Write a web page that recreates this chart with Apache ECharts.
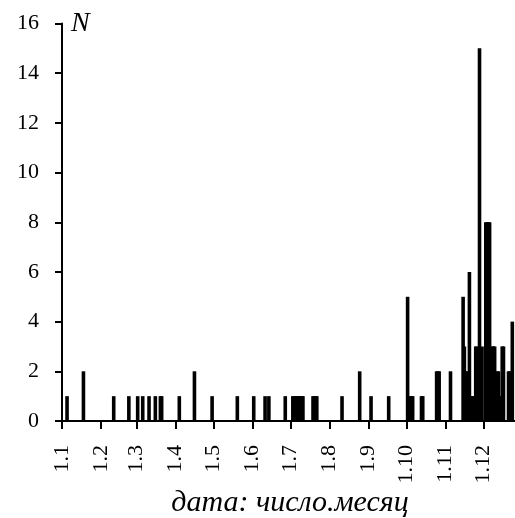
<!DOCTYPE html>
<html>
<head>
<meta charset="utf-8">
<script src="https://cdn.jsdelivr.net/npm/echarts@6/dist/echarts.min.js"></script>
<style>
  html, body { margin: 0; padding: 0; background: #fff; }
  #chart { width: 515px; height: 518px; }
</style>
</head>
<body>
<div id="chart"></div>
<script>
  // day of year (0 = 1 January) and number of events on that day
  const days = [
    4, 17, 41, 53, 60, 64, 69, 74, 78, 79,
    93, 105, 119, 139, 152, 161, 164, 177,
    183, 184, 185, 186, 187, 188, 189, 190, 191,
    199, 200, 201, 202, 222, 236, 245, 259,
    274, 276, 277, 278, 285, 286, 297, 298, 299, 308,
    318, 319, 320, 321, 323, 325, 326, 328, 329, 331, 333,
    336, 337, 338, 339, 341, 342, 343, 345, 346, 347,
    349, 350, 354, 355, 357,
  ];
  const counts = [
    1, 2, 1, 1, 1, 1, 1, 1, 1, 1,
    1, 2, 1, 1, 1, 1, 1, 1,
    1, 1, 1, 1, 1, 1, 1, 1, 1,
    1, 1, 1, 1, 1, 2, 1, 1,
    5, 1, 1, 1, 1, 1, 2, 2, 2, 2,
    5, 3, 2, 2, 6, 1, 1, 3, 3, 15, 3,
    8, 8, 8, 8, 3, 3, 3, 2, 2, 1,
    3, 3, 2, 2, 4,
  ];
  // first day of each month
  const monthStarts = [0, 31, 59, 90, 120, 151, 181, 212, 243, 273, 304, 334];
  const monthLabels = ['1.1', '1.2', '1.3', '1.4', '1.5', '1.6', '1.7', '1.8', '1.9', '1.10', '1.11', '1.12'];

  const serif = '"Liberation Serif", "Times New Roman", serif';
  const chart = echarts.init(document.getElementById('chart'));

  // the built-in bar squeezes width to the one-day gap, so draw the columns here
  const renderBar = (params, api) => {
    const top = api.coord([api.value(0), api.value(1)]);
    const base = api.coord([api.value(0), 0]);
    const w = 3.6;
    return {
      type: 'rect',
      shape: { x: top[0] - w / 2, y: top[1], width: w, height: base[1] - top[1] },
      style: { fill: '#000' },
    };
  };

  chart.setOption({
    animation: false,
    backgroundColor: '#fff',
    grid: {
      left: 62,
      top: 23.5,
      width: 460.4,
      height: 397.5,
      outerBoundsMode: 'none',
    },
    xAxis: {
      type: 'value',
      min: 0,
      max: 365,
      axisLine: {
        lineStyle: { color: '#000', width: 2 },
      },
      axisTick: {
        customValues: monthStarts,
        length: 8,
        lineStyle: { color: '#000', width: 2 },
      },
      axisLabel: {
        customValues: monthStarts,
        formatter: v => monthLabels[monthStarts.indexOf(v)],
        rotate: 90,
        margin: 24,
        color: '#000',
        fontFamily: serif,
        fontSize: 22,
      },
      splitLine: { show: false },
    },
    yAxis: {
      type: 'value',
      min: 0,
      max: 16,
      interval: 2,
      axisLine: {
        show: true,
        lineStyle: { color: '#000', width: 2 },
      },
      axisTick: {
        show: true,
        length: 7,
        lineStyle: { color: '#000', width: 2 },
      },
      axisLabel: {
        margin: 23,
        color: '#000',
        fontFamily: serif,
        fontSize: 22,
      },
      splitLine: { show: false },
    },
    graphic: [
      {
        type: 'text',
        x: 71,
        y: 10,
        style: {
          text: 'N',
          fill: '#000',
          font: 'italic 28px ' + serif,
        },
      },
      {
        type: 'text',
        x: 290,
        y: 503,
        style: {
          text: 'дата: число.месяц',
          fill: '#000',
          align: 'center',
          verticalAlign: 'middle',
          font: 'italic 30px ' + serif,
        },
      },
    ],
    series: [
      {
        type: 'custom',
        renderItem: renderBar,
        encode: { x: 0, y: 1 },
        data: days.map((d, i) => [d, counts[i]]),
      },
    ],
  });
</script>
</body>
</html>
